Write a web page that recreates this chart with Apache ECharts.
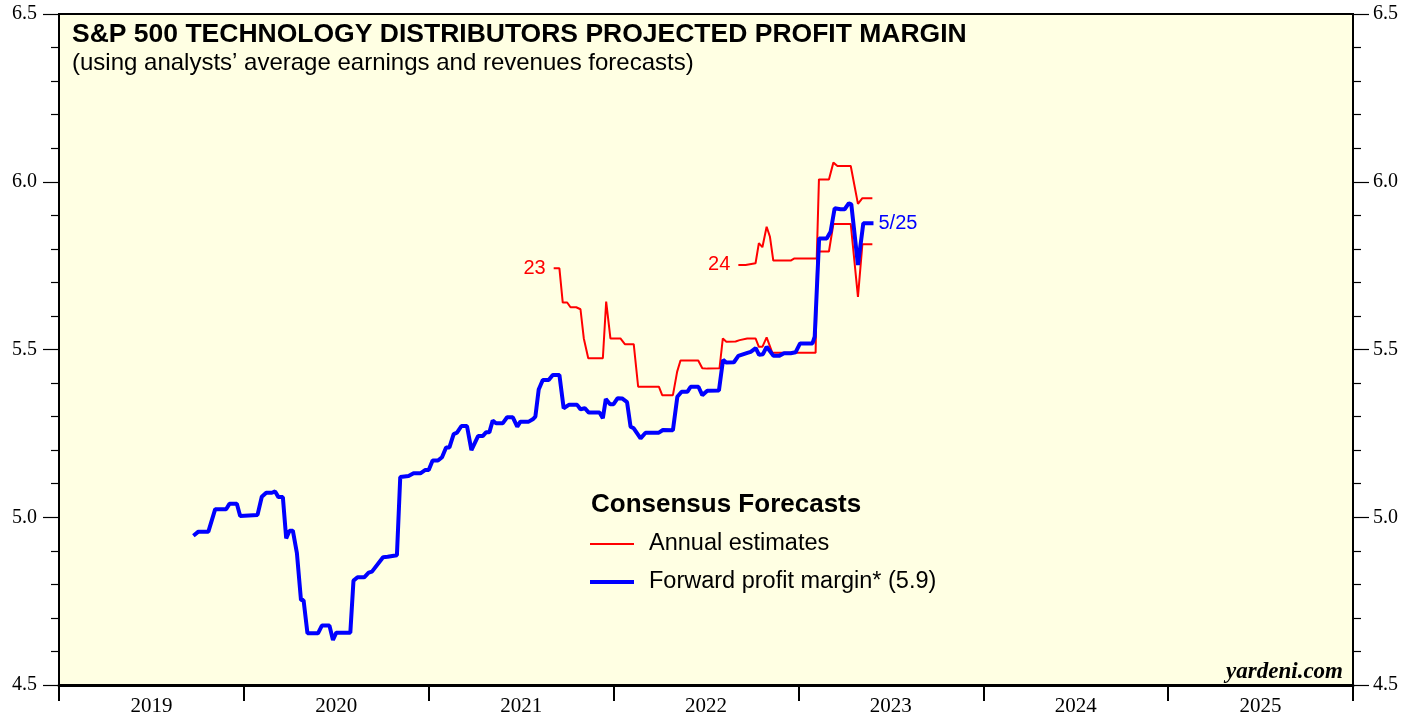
<!DOCTYPE html>
<html>
<head>
<meta charset="utf-8">
<title>S&P 500 Technology Distributors Projected Profit Margin</title>
<script src="https://cdn.jsdelivr.net/npm/echarts@6/dist/echarts.min.js"></script>
<style>
  html, body { margin: 0; padding: 0; background: #fff; }
  #main { width: 1419px; height: 719px; }
</style>
</head>
<body>
<div id="main"></div>
<script>
// years shown on the x axis (labels sit in the middle of each year)
const yearLabels = ["2019", "2020", "2021", "2022", "2023", "2024", "2025"];

// forward profit margin, weekly (decimal year, %)
const fwdDates = [
  2019.727, 2019.754, 2019.808, 2019.845, 2019.904, 2019.922, 2019.962, 2019.980,
  2020.074, 2020.097, 2020.121, 2020.152, 2020.169, 2020.187, 2020.211, 2020.229,
  2020.247, 2020.265, 2020.287, 2020.309, 2020.323, 2020.344, 2020.401, 2020.422,
  2020.463, 2020.482, 2020.500, 2020.576, 2020.593, 2020.615, 2020.651, 2020.675,
  2020.693, 2020.753, 2020.778, 2020.828, 2020.846, 2020.891, 2020.918, 2020.955,
  2020.982, 2021.000, 2021.021, 2021.050, 2021.072, 2021.094, 2021.112, 2021.135,
  2021.153, 2021.177, 2021.207, 2021.231, 2021.267, 2021.292, 2021.310, 2021.328,
  2021.346, 2021.364, 2021.400, 2021.424, 2021.455, 2021.479, 2021.496, 2021.541,
  2021.563, 2021.577, 2021.595, 2021.617, 2021.649, 2021.671, 2021.707, 2021.730,
  2021.758, 2021.803, 2021.821, 2021.844, 2021.866, 2021.924, 2021.942, 2021.958,
  2021.981, 2022.000, 2022.022, 2022.046, 2022.073, 2022.092, 2022.109, 2022.146,
  2022.173, 2022.245, 2022.267, 2022.321, 2022.345, 2022.368, 2022.399, 2022.417,
  2022.459, 2022.480, 2022.507, 2022.570, 2022.592, 2022.610, 2022.651, 2022.675,
  2022.724, 2022.742, 2022.769, 2022.787, 2022.808, 2022.828, 2022.865, 2022.895,
  2022.922, 2022.958, 2022.985, 2023.009, 2023.076, 2023.088, 2023.112, 2023.153,
  2023.174, 2023.196, 2023.228, 2023.250, 2023.273, 2023.286, 2023.322, 2023.351,
  2023.406
];
const fwdValues = [
  4.945, 4.957, 4.957, 5.024, 5.024, 5.040, 5.040, 5.004,
  5.007, 5.061, 5.073, 5.073, 5.077, 5.060, 5.060, 4.937,
  4.960, 4.960, 4.893, 4.753, 4.753, 4.654, 4.654, 4.677,
  4.677, 4.634, 4.656, 4.656, 4.811, 4.821, 4.821, 4.835,
  4.838, 4.881, 4.882, 4.887, 5.120, 5.123, 5.131, 5.131,
  5.141, 5.141, 5.169, 5.169, 5.179, 5.208, 5.208, 5.248,
  5.252, 5.272, 5.272, 5.200, 5.242, 5.242, 5.253, 5.253,
  5.288, 5.280, 5.280, 5.298, 5.298, 5.270, 5.285, 5.285,
  5.292, 5.300, 5.381, 5.409, 5.409, 5.424, 5.424, 5.325,
  5.335, 5.335, 5.322, 5.325, 5.312, 5.312, 5.295, 5.352,
  5.337, 5.337, 5.355, 5.354, 5.343, 5.270, 5.265, 5.235,
  5.252, 5.252, 5.260, 5.259, 5.359, 5.374, 5.374, 5.389,
  5.389, 5.364, 5.377, 5.378, 5.469, 5.461, 5.462, 5.481,
  5.490, 5.493, 5.504, 5.484, 5.486, 5.508, 5.481, 5.481,
  5.489, 5.489, 5.492, 5.518, 5.518, 5.538, 5.831, 5.831,
  5.851, 5.921, 5.918, 5.918, 5.936, 5.933, 5.752, 5.876,
  5.876
];

// annual estimate for 2023
const est23Dates = [
  2021.676, 2021.707, 2021.725, 2021.749, 2021.767, 2021.798, 2021.821, 2021.839,
  2021.863, 2021.942, 2021.960, 2021.983, 2022.037, 2022.061, 2022.109, 2022.133,
  2022.245, 2022.263, 2022.321, 2022.344, 2022.362, 2022.458, 2022.480, 2022.507,
  2022.573, 2022.591, 2022.610, 2022.660, 2022.682, 2022.723, 2022.768, 2022.786,
  2022.805, 2022.828, 2022.859, 2023.093, 2023.102, 2023.165, 2023.189, 2023.283,
  2023.322, 2023.346, 2023.400
];
const est23Values = [
  5.742, 5.742, 5.640, 5.640, 5.626, 5.626, 5.620, 5.533,
  5.474, 5.474, 5.643, 5.533, 5.533, 5.516, 5.516, 5.389,
  5.389, 5.364, 5.364, 5.434, 5.467, 5.467, 5.444, 5.443,
  5.444, 5.533, 5.523, 5.524, 5.528, 5.533, 5.533, 5.508,
  5.508, 5.536, 5.490, 5.490, 5.792, 5.792, 5.874, 5.874,
  5.657, 5.814, 5.814
];

// annual estimate for 2024
const est24Dates = [
  2022.675, 2022.714, 2022.723, 2022.768, 2022.786, 2022.805, 2022.828, 2022.846,
  2022.864, 2022.958, 2022.976, 2023.099, 2023.111, 2023.165, 2023.189, 2023.211,
  2023.283, 2023.322, 2023.346, 2023.400
];
const est24Values = [
  5.752, 5.752, 5.757, 5.757, 5.817, 5.805, 5.866, 5.836,
  5.765, 5.765, 5.771, 5.771, 6.007, 6.007, 6.057, 6.047,
  6.047, 5.934, 5.951, 5.951
];

const SANS = "'Liberation Sans', Arial, sans-serif";
const SERIF = "'Liberation Serif', 'Times New Roman', serif";

function pairs(xs, ys) {
  return xs.map((x, i) => [x, ys[i]]);
}

// little "23" / "24" tag just left of where each estimate line starts
function startTag(xs, ys, text) {
  return {
    symbol: "circle",
    symbolSize: 0,
    silent: true,
    label: {
      show: true,
      position: "left",
      distance: 8,
      formatter: text,
      color: "#ff0000",
      fontSize: 20,
      fontFamily: SANS,
    },
    data: [{ coord: [xs[0], ys[0]] }],
  };
}

const chart = echarts.init(document.getElementById("main"), null, { renderer: "canvas" });

const yAxisCommon = {
  type: "value",
  min: 4.5,
  max: 6.5,
  interval: 0.5,
  axisLine: { show: true, lineStyle: { color: "#000", width: 2 } },
  axisTick: { show: true, inside: false, length: 16, lineStyle: { color: "#000", width: 1.2 } },
  minorTick: { show: true, splitNumber: 5, length: 8, lineStyle: { color: "#000", width: 1.2 } },
  splitLine: { show: false },
  axisLabel: {
    color: "#000",
    fontFamily: SERIF,
    fontSize: 20,
    formatter: (v) => v.toFixed(1),
  },
};

const option = {
  animation: false,
  backgroundColor: "#ffffff",
  title: [
    {
      text: "S&P 500 TECHNOLOGY DISTRIBUTORS PROJECTED PROFIT MARGIN",
      subtext: "(using analysts’ average earnings and revenues forecasts)",
      left: 67,
      top: 16,
      itemGap: 3,
      textStyle: { fontFamily: SANS, fontWeight: "bold", fontSize: 26.5, color: "#000" },
      subtextStyle: { fontFamily: SANS, fontSize: 24, color: "#000" },
    },
    {
      text: "Consensus Forecasts",
      left: 586,
      top: 487,
      textStyle: { fontFamily: SANS, fontWeight: "bold", fontSize: 26, color: "#000" },
    },
    {
      text: "yardeni.com",
      right: 71,
      top: 656,
      textStyle: { fontFamily: SERIF, fontWeight: "bold", fontStyle: "italic", fontSize: 23, color: "#000" },
    },
  ],
  legend: {
    orient: "vertical",
    left: 585,
    top: 527,
    itemWidth: 44,
    itemHeight: 14,
    itemGap: 14,
    data: [
      { name: "Annual estimates", icon: "path://M0,0H44V2H0Z" },
      { name: "Forward profit margin* (5.9)", icon: "path://M0,0H44V4H0Z" },
    ],
    textStyle: { fontFamily: SANS, fontSize: 23.5, lineHeight: 24, color: "#000", padding: [0, 0, 0, 10] },
  },
  grid: {
    show: true,
    left: 59,
    right: 66,
    top: 14,
    bottom: 34,
    backgroundColor: "#ffffe3",
    borderColor: "#000",
    borderWidth: 2,
  },
  xAxis: [
    {
      type: "value",
      min: 2019,
      max: 2026,
      interval: 1,
      axisLine: { show: true, onZero: false, lineStyle: { color: "#000", width: 3 } },
      axisTick: { show: true, inside: false, length: 16, lineStyle: { color: "#000", width: 2 } },
      axisLabel: { show: false },
      splitLine: { show: false },
    },
    {
      type: "category",
      position: "bottom",
      data: yearLabels,
      boundaryGap: true,
      axisLine: { show: false },
      axisTick: { show: false },
      axisLabel: { color: "#000", fontFamily: SERIF, fontSize: 21, margin: 11 },
      splitLine: { show: false },
    },
  ],
  yAxis: [
    Object.assign({}, yAxisCommon, { position: "left", axisLabel: Object.assign({}, yAxisCommon.axisLabel, { margin: 22 }) }),
    Object.assign({}, yAxisCommon, { position: "right", axisLabel: Object.assign({}, yAxisCommon.axisLabel, { margin: 20 }) }),
  ],
  series: [
    {
      name: "Annual estimates",
      type: "line",
      xAxisIndex: 0,
      yAxisIndex: 0,
      symbol: "none",
      color: "#ff0000",
      lineStyle: { color: "#ff0000", width: 2 },
      data: pairs(est23Dates, est23Values),
      markPoint: startTag(est23Dates, est23Values, "23"),
      z: 3,
    },
    {
      name: "Annual estimates",
      type: "line",
      xAxisIndex: 0,
      yAxisIndex: 0,
      symbol: "none",
      color: "#ff0000",
      lineStyle: { color: "#ff0000", width: 2 },
      data: pairs(est24Dates, est24Values),
      markPoint: startTag(est24Dates, est24Values, "24"),
      z: 3,
    },
    {
      name: "Forward profit margin* (5.9)",
      type: "line",
      xAxisIndex: 0,
      yAxisIndex: 0,
      symbol: "none",
      color: "#0000ff",
      lineStyle: { color: "#0000ff", width: 4 },
      data: pairs(fwdDates, fwdValues),
      endLabel: {
        show: true,
        formatter: "5/25",
        color: "#0000ff",
        fontFamily: SANS,
        fontSize: 20,
        distance: 5,
      },
      z: 4,
    },
  ],
};

chart.setOption(option);
window.onresize = function () {
  chart.resize();
};
</script>
</body>
</html>
